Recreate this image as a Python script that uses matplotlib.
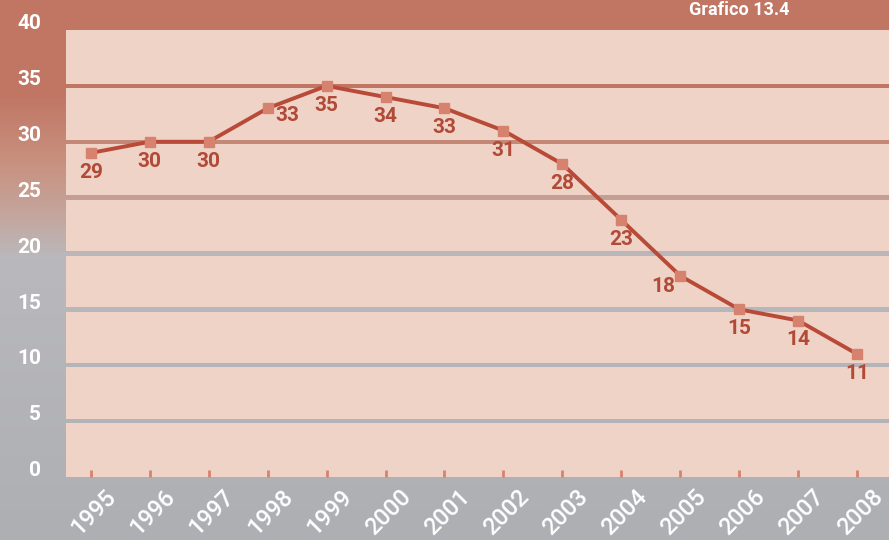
import numpy as np
import matplotlib
matplotlib.use("Agg")
import matplotlib.pyplot as plt
import matplotlib.transforms as mtransforms
from matplotlib.colors import LinearSegmentedColormap

# valori della serie
anni = ["1995", "1996", "1997", "1998", "1999", "2000", "2001",
        "2002", "2003", "2004", "2005", "2006", "2007", "2008"]
valori = [29, 30, 30, 33, 35, 34, 33, 31, 28, 23, 18, 15, 14, 11]
yticks = [0, 5, 10, 15, 20, 25, 30, 35, 40]

# spostamento delle etichette (punti) rispetto al marcatore
offset_etichette = [(0, -14)] * len(valori)
offset_etichette[3] = (14, -5)
offset_etichette[10] = (-12, -8)

rosso = "#c17563"
grigio = "#aeafb3"
rosa = "#efd3c7"
linea = "#b84a37"
marker = "#d7826f"
testo_dati = "#b24a38"

plt.rcParams["font.family"] = ["Roboto", "DejaVu Sans"]

fig = plt.figure(figsize=(8.89, 5.40), dpi=100)

# sfondo con sfumatura rosso -> grigio
bg = fig.add_axes([0, 0, 1, 1], zorder=-2)
cmap = LinearSegmentedColormap.from_list(
    "sf", [(0.0, rosso), (0.17, rosso), (0.30, "#c8917f"),
           (0.40, "#c4a69e"), (0.48, "#b9b9bd"), (1.0, grigio)])
grad = np.linspace(0, 1, 540).reshape(-1, 1)
bg.imshow(grad, aspect="auto", cmap=cmap, extent=[0, 1, 0, 1], origin="upper")
bg.set_axis_off()

ax = fig.add_axes([66 / 889, 63 / 540, 1 - 66 / 889, 447 / 540])
ax.set_facecolor("none")
ax.set_ylim(0, 40)
ax.set_xlim(-0.42, 13.54)

# fasce rosa separate da spazi che lasciano vedere lo sfondo
g = 0.2
for k in range(8):
    lo = k * 5 + (g if k > 0 else 0)
    hi = (k + 1) * 5 - (g if k < 7 else 0)
    ax.axhspan(lo, hi, color=rosa, lw=0, zorder=0)

x = np.arange(len(anni))
ax.plot(x, valori, color=linea, lw=2.8, zorder=3)
ax.plot(x, valori, ls="none", marker="s", ms=7, color=marker, zorder=4)

for xi, v, off in zip(x, valori, offset_etichette):
    ax.annotate(str(v), (xi, v), xytext=off, textcoords="offset points",
                ha="center", va="center", color=testo_dati,
                fontsize=15, fontweight="bold", zorder=5)

for s in ax.spines.values():
    s.set_visible(False)

ax.set_yticks(yticks)
ax.set_yticklabels([str(t) for t in yticks])
ax.tick_params(axis="y", length=0, pad=18, labelsize=15, labelcolor="white")
for lab in ax.get_yticklabels():
    lab.set_fontweight("bold")
    lab.set_transform(lab.get_transform() +
                      mtransforms.ScaledTranslation(0, 6 / 72, fig.dpi_scale_trans))

ax.set_xticks(x)
ax.set_xticklabels(anni, rotation=45, ha="right", rotation_mode="anchor")
ax.tick_params(axis="x", direction="in", length=5, width=2, color=marker,
               pad=6, labelsize=17, labelcolor="white")
for lab in ax.get_xticklabels():
    lab.set_fontweight("medium")
    lab.set_transform(lab.get_transform() +
                      mtransforms.ScaledTranslation(10 / 72, 0, fig.dpi_scale_trans))

fig.text(739 / 889, 539 / 540, "Grafico 13.4", color="white", fontsize=13,
         fontweight="bold", ha="center", va="top")

fig.savefig("out.png", dpi=100)
